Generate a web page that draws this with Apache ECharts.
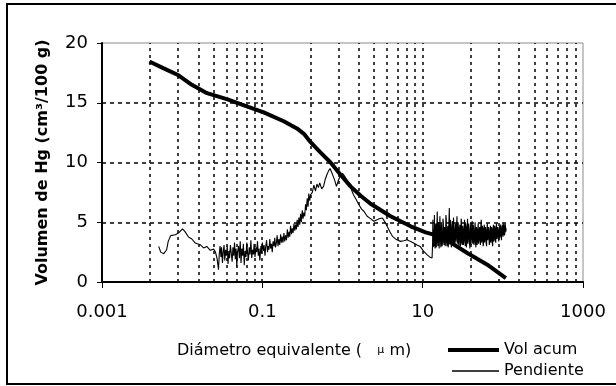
<!DOCTYPE html>
<html>
<head>
<meta charset="utf-8">
<script src="https://cdn.jsdelivr.net/npm/echarts@6/dist/echarts.min.js"></script>
<style>html,body{margin:0;padding:0;background:#fff}#c{width:616px;height:386px}</style>
</head>
<body>
<div id="c"></div>
<script>
// Diameter (µm) / volume values
const volAcum = [[0.0039,18.45],[0.0058,17.9],[0.009,17.3],[0.0132,16.5],[0.0204,15.8],[0.036,15.3],[0.064,14.7],[0.104,14.2],[0.185,13.45],[0.27,12.85],[0.33,12.4],[0.4,11.7],[0.53,10.85],[0.71,10.0],[0.94,9.0],[1.26,8.0],[1.7,7.2],[2.24,6.55],[3.98,5.5],[7.08,4.66],[10.9,4.15],[13.7,3.96],[22.4,3.3],[36,2.43],[64,1.45],[109,0.33]];

const pendiente = [[0.0051,2.98],[0.0054,2.5],[0.0059,2.37],[0.0064,2.7],[0.0067,3.4],[0.0072,3.88],[0.0082,3.96],[0.009,4.1],[0.0101,4.44],[0.0109,4.19],[0.012,3.77],[0.0132,3.6],[0.0145,3.27],[0.0155,3.2],[0.0168,3.12],[0.0185,2.85],[0.0203,2.98],[0.0224,2.65],[0.0247,2.75],[0.026,2.5],[0.0272,2.0],[0.0284,1.03],[0.029,2.3],[0.0297,3.0],[0.0305,2.1],[0.031,2.9],[0.0318,1.6],[0.0325,2.5],[0.0333,3.1],[0.034,1.8],[0.0348,2.7],[0.0356,2.2],[0.0365,3.0],[0.0373,1.5],[0.0382,2.6],[0.039,2.0],[0.04,3.1],[0.041,2.4],[0.042,1.7],[0.043,2.9],[0.044,2.2],[0.045,3.3],[0.046,1.9],[0.047,2.8],[0.048,1.3],[0.049,2.5],[0.0505,3.0],[0.0517,2.0],[0.053,3.4],[0.0542,1.6],[0.0555,2.8],[0.0568,2.2],[0.058,3.2],[0.0595,1.4],[0.061,2.6],[0.0625,2.1],[0.064,3.3],[0.0655,2.4],[0.067,1.8],[0.0686,2.9],[0.0702,2.3],[0.072,3.5],[0.0737,2.0],[0.0755,2.7],[0.0773,2.3],[0.079,3.2],[0.081,2.1],[0.083,2.9],[0.085,2.5],[0.087,3.4],[0.089,2.2],[0.091,2.8],[0.093,1.8],[0.096,3.0],[0.098,2.4],[0.1,3.3],[0.103,2.6],[0.105,3.1],[0.108,2.2],[0.11,2.9],[0.113,3.5],[0.116,2.5],[0.118,3.0],[0.121,2.7],[0.124,3.6],[0.127,2.8],[0.13,3.2],[0.133,2.5],[0.136,3.4],[0.14,3.0],[0.143,3.7],[0.146,2.9],[0.15,3.3],[0.153,3.9],[0.157,3.0],[0.161,3.6],[0.165,3.1],[0.169,4.0],[0.173,3.3],[0.177,3.8],[0.181,3.3],[0.186,4.1],[0.19,3.4],[0.195,3.9],[0.2,3.5],[0.205,4.4],[0.21,3.7],[0.215,4.2],[0.22,3.8],[0.225,4.7],[0.231,4.0],[0.236,4.5],[0.242,4.1],[0.248,4.9],[0.254,4.3],[0.26,4.8],[0.266,4.4],[0.272,5.2],[0.279,4.6],[0.286,5.4],[0.293,4.8],[0.3,5.7],[0.307,5.0],[0.315,6.0],[0.322,5.3],[0.33,5.8],[0.338,5.5],[0.346,6.5],[0.354,6.0],[0.363,7.0],[0.372,6.3],[0.38,7.4],[0.39,6.8],[0.4,7.3],[0.42,7.5],[0.44,8.1],[0.46,7.6],[0.48,8.2],[0.5,7.9],[0.52,8.3],[0.55,7.8],[0.58,8.0],[0.61,8.6],[0.64,9.0],[0.67,9.3],[0.7,9.5],[0.73,9.2],[0.76,8.9],[0.8,8.5],[0.84,8.0],[0.87,8.1],[0.9,8.6],[0.95,8.9],[1.0,9.1],[1.05,8.9],[1.12,8.6],[1.2,8.3],[1.28,7.8],[1.37,7.3],[1.48,6.9],[1.6,6.47],[1.73,6.1],[1.86,5.9],[2.03,5.5],[2.24,5.3],[2.46,5.08],[2.7,5.2],[2.86,5.3],[3.15,5.36],[3.4,5.0],[3.6,4.66],[3.9,4.2],[4.2,3.82],[4.7,3.55],[5.3,3.4],[5.8,3.45],[6.4,3.54],[7.0,3.4],[7.7,3.27],[8.5,3.1],[9.3,2.98],[10.2,2.6],[11.3,2.29],[12.2,2.1],[13.1,2.0],[13.3,3.2],[13.4,5.2],[13.55,2.9],[13.7,4.4],[13.85,3.0],[14.0,5.6],[14.15,3.6],[14.3,2.8],[14.45,4.5],[14.6,4.9],[14.75,2.9],[14.9,3.3],[15.05,4.8],[15.2,5.9],[15.35,3.4],[15.5,3.0],[15.7,5.0],[15.9,4.6],[16.05,2.8],[16.2,3.5],[16.4,5.5],[16.6,5.4],[16.75,3.2],[16.9,2.9],[17.1,4.9],[17.3,4.8],[17.5,3.0],[17.7,3.4],[17.9,5.3],[18.1,5.0],[18.3,3.3],[18.5,3.1],[18.7,4.6],[18.9,4.4],[19.1,3.0],[19.3,3.6],[19.5,5.6],[19.7,5.3],[19.9,3.4],[20.1,3.0],[20.35,4.3],[20.6,4.7],[20.8,2.9],[21.0,3.2],[21.25,5.0],[21.5,6.2],[21.75,3.3],[22.0,3.5],[22.25,5.2],[22.5,4.5],[22.75,2.9],[23.0,3.1],[23.25,4.7],[23.5,5.1],[23.75,3.5],[24.0,3.3],[24.25,5.4],[24.5,4.6],[24.8,3.0],[25.1,2.9],[25.35,4.4],[25.6,4.9],[25.9,3.3],[26.2,3.6],[26.5,4.8],[26.8,5.5],[27.1,3.5],[27.4,3.2],[27.7,5.0],[28.0,4.3],[28.3,2.9],[28.6,3.0],[28.9,4.6],[29.2,4.8],[29.55,3.0],[29.9,3.4],[30.2,5.3],[30.5,5.0],[30.85,3.3],[31.2,3.1],[31.55,4.7],[31.9,4.4],[32.25,3.1],[32.6,3.5],[32.95,4.6],[33.3,5.2],[33.65,3.4],[34.0,3.0],[34.4,4.9],[34.8,4.6],[35.15,2.9],[35.5,3.3],[35.9,4.5],[36.3,5.3],[36.7,3.2],[37.1,3.6],[37.5,4.9],[37.9,4.5],[38.35,3.4],[38.8,2.8],[39.2,4.2],[39.6,4.8],[40.05,3.1],[40.5,3.7],[40.95,4.5],[41.4,5.1],[41.85,3.4],[42.3,3.2],[42.75,4.8],[43.2,4.3],[43.7,3.1],[44.2,3.5],[44.65,4.4],[45.1,5.0],[45.6,3.3],[46.1,2.9],[46.65,4.6],[47.2,4.4],[47.7,3.1],[48.2,3.4],[48.75,4.5],[49.3,4.9],[49.85,3.2],[50.4,3.6],[50.95,4.3],[51.5,4.6],[52.05,3.4],[52.6,3.1],[53.2,4.7],[53.8,5.2],[54.4,3.3],[55.0,3.5],[55.6,4.7],[56.2,4.4],[56.8,3.0],[57.4,3.2],[58.05,4.5],[58.7,4.8],[59.35,3.3],[60.0,3.6],[60.65,4.6],[61.3,4.3],[62.0,3.2],[62.7,3.0],[63.4,4.5],[64.1,4.9],[64.8,3.5],[65.5,3.7],[66.25,4.6],[67.0,4.2],[67.7,3.1],[68.4,3.3],[69.2,4.4],[70.0,4.7],[70.75,3.3],[71.5,3.5],[72.3,4.6],[73.1,4.4],[73.9,3.2],[74.7,3.0],[75.55,4.5],[76.4,4.8],[77.25,3.4],[78.1,3.6],[78.95,4.7],[79.8,4.5],[80.7,3.5],[81.6,3.3],[82.5,4.6],[83.4,4.9],[84.3,3.6],[85.2,3.8],[86.15,4.6],[87.1,4.3],[88.05,3.6],[89.0,3.4],[90.0,4.5],[91.0,4.7],[92.0,3.7],[93.0,3.9],[94.05,4.8],[95.1,4.5],[96.15,3.5],[97.2,3.6],[98.25,4.6],[99.3,4.8],[100.4,3.8],[101.5,4.0],[102.6,4.9],[103.8,4.6],[104.9,3.9],[106,4.1],[107,4.9],[108,5.0],[109,4.2],[110,4.5]];

const seriesNames = ['Vol acum', 'Pendiente'];
const xTickLabels = ['0.001', '0.1', '10', '1000'];
const yTicks = [0, 5, 10, 15, 20];
// vertical dotted grid positions (µm)
const vGridLines = [0.004,0.009,0.016,0.025,0.036,0.049,0.064,0.081,0.1,0.4,0.9,1.6,2.5,3.6,4.9,6.4,8.1,10,40,90,160,250,360,490,640,810];

const FONT = 'DejaVu Sans';
const chart = echarts.init(document.getElementById('c'), null, {renderer: 'canvas'});
chart.setOption({
  animation: false,
  backgroundColor: '#fff',
  grid: {left: 102, right: 33, top: 43, bottom: 104, show: true, borderColor: '#8c8c8c', borderWidth: 1, backgroundColor: 'transparent'},
  xAxis: {
    type: 'log', logBase: 10, min: 0.001, max: 1000, interval: 2,
    axisLine: {show: true, lineStyle: {color: '#000', width: 2}},
    axisTick: {show: true, length: 6, lineStyle: {color: '#000', width: 1}},
    splitLine: {show: false}, minorTick: {show: false},
    axisLabel: {
      fontFamily: FONT, fontSize: 18, color: '#000', margin: 21,
      formatter: function (v) { const i = Math.round((Math.log10(v) + 3) / 2); return xTickLabels[i] ?? ''; }
    }
  },
  yAxis: {
    type: 'value', min: yTicks[0], max: yTicks[yTicks.length - 1], interval: 5,
    name: 'Volumen de Hg (cm³/100 g)', nameLocation: 'middle', nameGap: 51,
    nameTextStyle: {fontFamily: FONT, fontSize: 16, fontWeight: 'bold', color: '#000'},
    axisLine: {show: true, lineStyle: {color: '#000', width: 2}},
    axisTick: {show: true, length: 5, lineStyle: {color: '#000', width: 1}},
    axisLabel: {fontFamily: FONT, fontSize: 18, color: '#000', margin: 14},
    splitLine: {show: true, showMinLine: false, showMaxLine: false, lineStyle: {color: '#000', width: 1.5, type: [4, 4]}}
  },
  legend: [
    {orient: 'vertical', left: 448, top: 342, padding: 0, itemWidth: 51, itemHeight: 4, icon: 'rect',
     textStyle: {fontFamily: FONT, fontSize: 16, color: '#000'}, data: [seriesNames[0]]},
    {orient: 'vertical', left: 452, top: 363, padding: 0, itemWidth: 47, itemHeight: 1.5, icon: 'rect',
     textStyle: {fontFamily: FONT, fontSize: 16, color: '#000'}, data: [seriesNames[1]]}
  ],
  graphic: [
    {type: 'rect', shape: {x: 7, y: 4, width: 620, height: 380}, style: {fill: 'none', stroke: '#000', lineWidth: 2}, silent: true},
    {type: 'text', left: 177, top: 343, style: {
      text: 'Diámetro equivalente (   {mu|µ} m)', font: '16px "' + FONT + '"', fill: '#000',
      rich: {mu: {fontSize: 11, fontFamily: FONT, fill: '#000', padding: [0, 0, 2, 0]}}
    }}
  ],
  series: [
    {type: 'custom', name: '_grid', silent: true, z: 1, clip: true,
     data: vGridLines.map(function (v) { return [v, 0]; }),
     renderItem: function (params, api) {
       const p0 = api.coord([api.value(0), yTicks[0]]);
       const p1 = api.coord([api.value(0), yTicks[yTicks.length - 1]]);
       const x = Math.round(p0[0]);
       return {type: 'line', shape: {x1: x, y1: p0[1], x2: x, y2: p1[1]},
               style: {stroke: '#000', lineWidth: 1.5, lineDash: [3, 4]}};
     }},
    {type: 'line', name: seriesNames[1], data: pendiente, symbol: 'none', z: 3,
     lineStyle: {color: '#000', width: 1.1}, itemStyle: {color: '#000'}},
    {type: 'line', name: seriesNames[0], data: volAcum, symbol: 'none', z: 4,
     lineStyle: {color: '#000', width: 4}, itemStyle: {color: '#000'}}
  ]
});
</script>
</body>
</html>
